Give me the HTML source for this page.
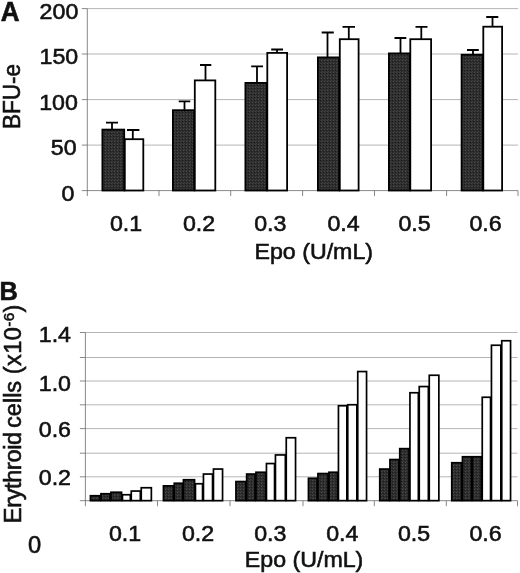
<!DOCTYPE html>
<html lang="en"><head><meta charset="utf-8"><title>Figure</title>
<style>html,body{margin:0;padding:0;background:#fff}svg{display:block}text{font-family:"Liberation Sans", Arial, Helvetica, sans-serif;fill:#111;stroke:#111;stroke-width:0.6px}</style>
</head><body>
<svg width="520" height="573" viewBox="0 0 520 573">
<defs><pattern id="dk" width="3" height="3" patternUnits="userSpaceOnUse"><rect width="3" height="3" fill="#2d2d2d"/><rect x="0" y="0" width="1" height="1" fill="#4a4a4a"/><rect x="2" y="1" width="1" height="1" fill="#1c1c1c"/><rect x="1" y="2" width="1" height="1" fill="#3c3c3c"/></pattern></defs>
<rect width="520" height="573" fill="#fff"/>
<g stroke="#9c9c9c" stroke-width="0.75" fill="none">
<line x1="87.30" y1="8.60" x2="518.00" y2="8.60"/>
<line x1="87.30" y1="54.00" x2="518.00" y2="54.00"/>
<line x1="87.30" y1="99.60" x2="518.00" y2="99.60"/>
<line x1="87.30" y1="145.10" x2="518.00" y2="145.10"/>
</g>
<g stroke="#6a6a6a" stroke-width="0.8" fill="none">
<line x1="87.30" y1="8.60" x2="87.30" y2="196.10"/>
<line x1="81.80" y1="190.60" x2="518.00" y2="190.60"/>
<line x1="81.80" y1="8.60" x2="87.30" y2="8.60"/>
<line x1="81.80" y1="54.00" x2="87.30" y2="54.00"/>
<line x1="81.80" y1="99.60" x2="87.30" y2="99.60"/>
<line x1="81.80" y1="145.10" x2="87.30" y2="145.10"/>
<line x1="159.00" y1="190.60" x2="159.00" y2="196.10"/>
<line x1="230.70" y1="190.60" x2="230.70" y2="196.10"/>
<line x1="302.60" y1="190.60" x2="302.60" y2="196.10"/>
<line x1="374.50" y1="190.60" x2="374.50" y2="196.10"/>
<line x1="446.60" y1="190.60" x2="446.60" y2="196.10"/>
<line x1="518.00" y1="190.60" x2="518.00" y2="196.10"/>
</g>
<rect x="102.40" y="129.60" width="21.80" height="60.90" fill="url(#dk)" stroke="#000" stroke-width="1.8"/>
<rect x="124.80" y="139.20" width="18.50" height="51.30" fill="#fff" stroke="#000" stroke-width="1.8"/>
<path d="M112.00 129.20V122.60M106.00 122.60H118.00" stroke="#000" stroke-width="1.8" fill="none"/>
<path d="M132.80 139.30V130.00M127.00 130.00H139.40" stroke="#000" stroke-width="1.8" fill="none"/>
<rect x="172.90" y="110.20" width="21.30" height="80.30" fill="url(#dk)" stroke="#000" stroke-width="1.8"/>
<rect x="194.80" y="80.40" width="20.50" height="110.10" fill="#fff" stroke="#000" stroke-width="1.8"/>
<path d="M184.50 109.80V101.30M178.70 101.30H190.30" stroke="#000" stroke-width="1.8" fill="none"/>
<path d="M205.50 80.50V65.00M200.00 65.00H211.30" stroke="#000" stroke-width="1.8" fill="none"/>
<rect x="245.40" y="82.90" width="21.30" height="107.60" fill="url(#dk)" stroke="#000" stroke-width="1.8"/>
<rect x="267.30" y="52.90" width="19.80" height="137.60" fill="#fff" stroke="#000" stroke-width="1.8"/>
<path d="M257.00 82.50V66.30M251.20 66.30H263.00" stroke="#000" stroke-width="1.8" fill="none"/>
<path d="M277.00 53.00V49.50M271.20 49.50H283.00" stroke="#000" stroke-width="1.8" fill="none"/>
<rect x="317.90" y="57.40" width="21.30" height="133.10" fill="url(#dk)" stroke="#000" stroke-width="1.8"/>
<rect x="339.80" y="39.20" width="18.80" height="151.30" fill="#fff" stroke="#000" stroke-width="1.8"/>
<path d="M327.50 57.00V32.50M321.70 32.50H333.80" stroke="#000" stroke-width="1.8" fill="none"/>
<path d="M348.80 39.30V26.80M342.50 26.80H355.00" stroke="#000" stroke-width="1.8" fill="none"/>
<rect x="388.90" y="53.40" width="20.80" height="137.10" fill="url(#dk)" stroke="#000" stroke-width="1.8"/>
<rect x="410.30" y="39.20" width="20.80" height="151.30" fill="#fff" stroke="#000" stroke-width="1.8"/>
<path d="M400.50 53.00V38.00M394.50 38.00H406.30" stroke="#000" stroke-width="1.8" fill="none"/>
<path d="M421.30 39.30V26.80M415.50 26.80H427.50" stroke="#000" stroke-width="1.8" fill="none"/>
<rect x="461.60" y="54.70" width="21.10" height="135.80" fill="url(#dk)" stroke="#000" stroke-width="1.8"/>
<rect x="483.30" y="26.70" width="18.80" height="163.80" fill="#fff" stroke="#000" stroke-width="1.8"/>
<path d="M473.00 54.30V50.00M467.00 50.00H478.80" stroke="#000" stroke-width="1.8" fill="none"/>
<path d="M492.50 26.80V17.00M486.20 17.00H498.30" stroke="#000" stroke-width="1.8" fill="none"/>
<text transform="translate(78.30,18.70) scale(1.000,0.950)" font-size="23.20" text-anchor="end">200</text>
<text transform="translate(78.20,64.10) scale(1.000,0.950)" font-size="23.20" text-anchor="end">150</text>
<text transform="translate(77.90,109.70) scale(1.000,0.950)" font-size="23.20" text-anchor="end">100</text>
<text transform="translate(76.60,155.20) scale(1.000,0.950)" font-size="23.20" text-anchor="end">50</text>
<text transform="translate(74.30,200.70) scale(1.000,0.950)" font-size="23.20" text-anchor="end">0</text>
<text transform="translate(126.00,230.60) scale(1.000,0.950)" font-size="23.20" text-anchor="middle">0.1</text>
<text transform="translate(199.00,230.60) scale(1.000,0.950)" font-size="23.20" text-anchor="middle">0.2</text>
<text transform="translate(270.30,230.60) scale(1.000,0.950)" font-size="23.20" text-anchor="middle">0.3</text>
<text transform="translate(343.50,230.60) scale(1.000,0.950)" font-size="23.20" text-anchor="middle">0.4</text>
<text transform="translate(414.50,230.60) scale(1.000,0.950)" font-size="23.20" text-anchor="middle">0.5</text>
<text transform="translate(485.50,230.60) scale(1.000,0.950)" font-size="23.20" text-anchor="middle">0.6</text>
<text transform="translate(254.50,258.50) scale(1.000,0.950)" font-size="23.20" text-anchor="start">Epo (U/mL)</text>
<text transform="translate(0.70,20.50) scale(0.970,1.000)" font-size="26.80" text-anchor="start" font-weight="bold">A</text>
<text transform="translate(20.4,129.0) rotate(-90) scale(0.96,1)" font-size="23.5">BFU-e</text>
<g stroke="#9c9c9c" stroke-width="0.75" fill="none">
<line x1="85.40" y1="332.50" x2="517.50" y2="332.50"/>
<line x1="85.40" y1="357.50" x2="517.50" y2="357.50"/>
<line x1="85.40" y1="381.00" x2="517.50" y2="381.00"/>
<line x1="85.40" y1="404.80" x2="517.50" y2="404.80"/>
<line x1="85.40" y1="428.60" x2="517.50" y2="428.60"/>
<line x1="85.40" y1="453.20" x2="517.50" y2="453.20"/>
<line x1="85.40" y1="476.80" x2="517.50" y2="476.80"/>
</g>
<g stroke="#6a6a6a" stroke-width="0.8" fill="none">
<line x1="85.40" y1="332.50" x2="85.40" y2="506.20"/>
<line x1="79.90" y1="500.70" x2="517.50" y2="500.70"/>
<line x1="79.90" y1="332.50" x2="85.40" y2="332.50"/>
<line x1="79.90" y1="357.50" x2="85.40" y2="357.50"/>
<line x1="79.90" y1="381.00" x2="85.40" y2="381.00"/>
<line x1="79.90" y1="404.80" x2="85.40" y2="404.80"/>
<line x1="79.90" y1="428.60" x2="85.40" y2="428.60"/>
<line x1="79.90" y1="453.20" x2="85.40" y2="453.20"/>
<line x1="79.90" y1="476.80" x2="85.40" y2="476.80"/>
<line x1="157.50" y1="500.70" x2="157.50" y2="506.20"/>
<line x1="230.00" y1="500.70" x2="230.00" y2="506.20"/>
<line x1="303.00" y1="500.70" x2="303.00" y2="506.20"/>
<line x1="374.30" y1="500.70" x2="374.30" y2="506.20"/>
<line x1="446.30" y1="500.70" x2="446.30" y2="506.20"/>
<line x1="517.50" y1="500.70" x2="517.50" y2="506.20"/>
</g>
<rect x="90.45" y="495.75" width="9.60" height="4.90" fill="url(#dk)" stroke="#000" stroke-width="1.7"/>
<rect x="100.95" y="493.75" width="9.10" height="6.90" fill="url(#dk)" stroke="#000" stroke-width="1.7"/>
<rect x="110.95" y="492.25" width="10.60" height="8.40" fill="url(#dk)" stroke="#000" stroke-width="1.7"/>
<rect x="122.45" y="494.75" width="7.90" height="5.90" fill="#fff" stroke="#000" stroke-width="1.7"/>
<rect x="131.25" y="491.05" width="9.10" height="9.60" fill="#fff" stroke="#000" stroke-width="1.7"/>
<rect x="141.25" y="487.75" width="10.10" height="12.90" fill="#fff" stroke="#000" stroke-width="1.7"/>
<rect x="163.45" y="485.85" width="9.90" height="14.80" fill="url(#dk)" stroke="#000" stroke-width="1.7"/>
<rect x="174.25" y="483.25" width="8.30" height="17.40" fill="url(#dk)" stroke="#000" stroke-width="1.7"/>
<rect x="183.45" y="479.75" width="11.10" height="20.90" fill="url(#dk)" stroke="#000" stroke-width="1.7"/>
<rect x="195.45" y="483.75" width="7.10" height="16.90" fill="#fff" stroke="#000" stroke-width="1.7"/>
<rect x="203.45" y="474.05" width="9.10" height="26.60" fill="#fff" stroke="#000" stroke-width="1.7"/>
<rect x="213.45" y="469.05" width="9.10" height="31.60" fill="#fff" stroke="#000" stroke-width="1.7"/>
<rect x="235.95" y="481.55" width="9.80" height="19.10" fill="url(#dk)" stroke="#000" stroke-width="1.7"/>
<rect x="246.65" y="474.05" width="8.40" height="26.60" fill="url(#dk)" stroke="#000" stroke-width="1.7"/>
<rect x="255.95" y="472.25" width="9.60" height="28.40" fill="url(#dk)" stroke="#000" stroke-width="1.7"/>
<rect x="266.45" y="463.55" width="8.10" height="37.10" fill="#fff" stroke="#000" stroke-width="1.7"/>
<rect x="275.45" y="454.95" width="9.90" height="45.70" fill="#fff" stroke="#000" stroke-width="1.7"/>
<rect x="286.25" y="437.75" width="9.30" height="62.90" fill="#fff" stroke="#000" stroke-width="1.7"/>
<rect x="308.45" y="478.25" width="8.60" height="22.40" fill="url(#dk)" stroke="#000" stroke-width="1.7"/>
<rect x="317.95" y="473.55" width="10.10" height="27.10" fill="url(#dk)" stroke="#000" stroke-width="1.7"/>
<rect x="328.95" y="472.25" width="8.60" height="28.40" fill="url(#dk)" stroke="#000" stroke-width="1.7"/>
<rect x="338.45" y="405.75" width="8.40" height="94.90" fill="#fff" stroke="#000" stroke-width="1.7"/>
<rect x="347.75" y="404.75" width="9.10" height="95.90" fill="#fff" stroke="#000" stroke-width="1.7"/>
<rect x="357.75" y="371.55" width="8.80" height="129.10" fill="#fff" stroke="#000" stroke-width="1.7"/>
<rect x="379.75" y="469.05" width="9.30" height="31.60" fill="url(#dk)" stroke="#000" stroke-width="1.7"/>
<rect x="389.95" y="459.55" width="8.90" height="41.10" fill="url(#dk)" stroke="#000" stroke-width="1.7"/>
<rect x="399.75" y="448.65" width="9.30" height="52.00" fill="url(#dk)" stroke="#000" stroke-width="1.7"/>
<rect x="409.95" y="392.75" width="8.40" height="107.90" fill="#fff" stroke="#000" stroke-width="1.7"/>
<rect x="419.25" y="386.55" width="9.10" height="114.10" fill="#fff" stroke="#000" stroke-width="1.7"/>
<rect x="429.25" y="375.25" width="9.60" height="125.40" fill="#fff" stroke="#000" stroke-width="1.7"/>
<rect x="451.75" y="462.75" width="9.80" height="37.90" fill="url(#dk)" stroke="#000" stroke-width="1.7"/>
<rect x="462.45" y="456.75" width="9.10" height="43.90" fill="url(#dk)" stroke="#000" stroke-width="1.7"/>
<rect x="472.45" y="456.75" width="8.90" height="43.90" fill="url(#dk)" stroke="#000" stroke-width="1.7"/>
<rect x="482.25" y="397.25" width="8.30" height="103.40" fill="#fff" stroke="#000" stroke-width="1.7"/>
<rect x="491.45" y="345.25" width="9.40" height="155.40" fill="#fff" stroke="#000" stroke-width="1.7"/>
<rect x="501.75" y="340.75" width="8.80" height="159.90" fill="#fff" stroke="#000" stroke-width="1.7"/>
<text transform="translate(71.00,342.30) scale(1.000,0.950)" font-size="23.20" text-anchor="end">1.4</text>
<text transform="translate(71.00,390.60) scale(1.000,0.950)" font-size="23.20" text-anchor="end">1.0</text>
<text transform="translate(71.00,437.20) scale(1.000,0.950)" font-size="23.20" text-anchor="end">0.6</text>
<text transform="translate(71.00,485.40) scale(1.000,0.950)" font-size="23.20" text-anchor="end">0.2</text>
<text transform="translate(125.00,540.50) scale(1.000,0.950)" font-size="23.20" text-anchor="middle">0.1</text>
<text transform="translate(198.00,540.50) scale(1.000,0.950)" font-size="23.20" text-anchor="middle">0.2</text>
<text transform="translate(270.30,540.50) scale(1.000,0.950)" font-size="23.20" text-anchor="middle">0.3</text>
<text transform="translate(342.30,540.50) scale(1.000,0.950)" font-size="23.20" text-anchor="middle">0.4</text>
<text transform="translate(414.00,540.50) scale(1.000,0.950)" font-size="23.20" text-anchor="middle">0.5</text>
<text transform="translate(485.50,540.50) scale(1.000,0.950)" font-size="23.20" text-anchor="middle">0.6</text>
<text transform="translate(244.80,566.80) scale(1.000,0.950)" font-size="23.20" text-anchor="start">Epo (U/mL)</text>
<text transform="translate(-0.60,299.80) scale(1.000,1.000)" font-size="25.40" text-anchor="start" font-weight="bold">B</text>
<text x="28" y="553" font-size="23.7">0</text>
<text transform="translate(21,523.2) rotate(-90)" font-size="23.5"><tspan letter-spacing="-0.33">Erythroid</tspan><tspan dx="-2.3"> cells </tspan><tspan letter-spacing="0.5">(x10</tspan><tspan dy="-7.4" font-size="15.3" letter-spacing="0.2">-6</tspan><tspan dy="7.4">)</tspan></text>
</svg>
</body></html>
